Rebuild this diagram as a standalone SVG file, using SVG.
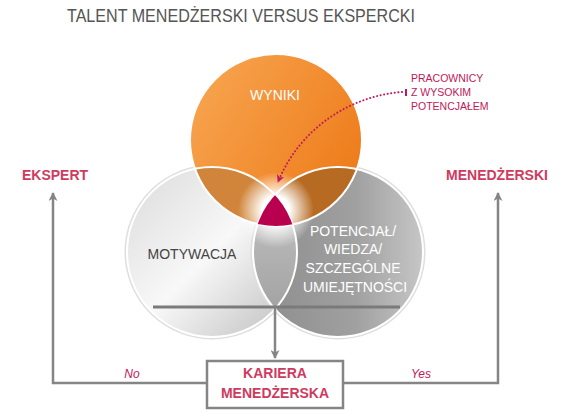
<svg xmlns="http://www.w3.org/2000/svg" width="580" height="413" viewBox="0 0 580 413">
<style>
.t{font-family:"Liberation Sans",Arial,sans-serif}
.lbl{font-family:"Liberation Sans",Arial,sans-serif;font-weight:bold;font-size:14px;fill:#cf3a60;text-anchor:middle}
.conn{fill:none;stroke:#858585;stroke-width:2.5}
.outline{fill:none;stroke:#ffffff;stroke-width:2}
</style>
<defs>
<linearGradient id="gL" x1="0" y1="0" x2="1" y2="1">
<stop offset="0" stop-color="#dadada"/>
<stop offset="0.5" stop-color="#f8f8f8"/>
<stop offset="1" stop-color="#bcbcbc"/>
</linearGradient>
<linearGradient id="gR" x1="0" y1="0" x2="1" y2="0">
<stop offset="0" stop-color="#8c8c8c"/>
<stop offset="0.6" stop-color="#a0a0a0"/>
<stop offset="1" stop-color="#c6c6c6"/>
</linearGradient>
<linearGradient id="gO" x1="0" y1="0" x2="1" y2="0.6">
<stop offset="0" stop-color="#f8a854"/>
<stop offset="1" stop-color="#ee7d1c"/>
</linearGradient>
<linearGradient id="gLens" x1="0" y1="0" x2="0" y2="1">
<stop offset="0" stop-color="#c8c8c8"/>
<stop offset="1" stop-color="#9c9c9c"/>
</linearGradient>
<radialGradient id="glow" cx="276" cy="210" r="38" gradientUnits="userSpaceOnUse">
<stop offset="0.35" stop-color="#ffffff" stop-opacity="1"/>
<stop offset="1" stop-color="#ffffff" stop-opacity="0"/>
</radialGradient>
<clipPath id="cL"><circle cx="212" cy="252" r="85"/></clipPath>
<clipPath id="cR"><circle cx="338" cy="252" r="85"/></clipPath>
<clipPath id="cO"><circle cx="276" cy="140" r="86"/></clipPath>
<marker id="arr" viewBox="0 0 10 10" refX="9" refY="5" markerWidth="10" markerHeight="9" orient="auto" markerUnits="userSpaceOnUse">
<path d="M0,0 L10,5 L0,10 L3,5 z" fill="#858585"/>
</marker>
<marker id="arrP" viewBox="0 0 10 10" refX="9" refY="5" markerWidth="8" markerHeight="8" orient="auto" markerUnits="userSpaceOnUse">
<path d="M0,0 L10,5 L0,10 L3,5 z" fill="#c0185a"/>
</marker>
</defs>
<rect width="580" height="413" fill="#ffffff"/>
<text class="t" x="241" y="22" font-size="17.5" fill="#555555" text-anchor="middle" textLength="348" lengthAdjust="spacingAndGlyphs">TALENT MENEDŻERSKI VERSUS EKSPERCKI</text>

<g id="motywacja">
<circle cx="212" cy="252" r="86.5" fill="none" stroke="#dedede" stroke-width="2"/>
<circle cx="212" cy="252" r="85" fill="url(#gL)"/>
</g>
<g id="potencjal">
<circle cx="338" cy="252" r="86.5" fill="none" stroke="#dedede" stroke-width="2"/>
<circle cx="338" cy="252" r="85" fill="url(#gR)"/>
<g clip-path="url(#cL)"><circle cx="338" cy="252" r="85" fill="url(#gLens)"/></g>
</g>
<g id="wyniki">
<circle cx="276" cy="140" r="86" fill="url(#gO)"/>
<g clip-path="url(#cL)"><circle cx="276" cy="140" r="86" fill="#d0853a"/></g>
<g clip-path="url(#cR)"><circle cx="276" cy="140" r="86" fill="#b66a22"/></g>
</g>
<circle cx="276" cy="210" r="38" fill="url(#glow)"/>
<g id="outlines">
<circle class="outline" cx="212" cy="252" r="85"/>
<circle class="outline" cx="338" cy="252" r="85"/>
<circle class="outline" cx="276" cy="140" r="86"/>
</g>
<g id="rdzen">
<g clip-path="url(#cO)"><g clip-path="url(#cL)"><circle cx="338" cy="252" r="85" fill="#b8004f"/></g></g>
</g>

<text class="t" x="275" y="100" font-size="14" fill="#ffffff" text-anchor="middle">WYNIKI</text>
<text class="t" x="192" y="259" font-size="14" fill="#444444" text-anchor="middle">MOTYWACJA</text>
<text class="t" font-size="14" fill="#ffffff" text-anchor="middle">
<tspan x="355" y="236">POTENCJAŁ/</tspan>
<tspan x="355" y="254">WIEDZA/</tspan>
<tspan x="355" y="273">SZCZEGÓLNE</tspan>
<tspan x="355" y="292">UMIEJĘTNOŚCI</tspan>
</text>

<g id="connectors">
<line x1="153" y1="307" x2="400" y2="307" stroke="#7a7a7a" stroke-width="3"/>
<line class="conn" x1="275" y1="307" x2="275" y2="358" marker-end="url(#arr)"/>
<polyline class="conn" points="207,383 53,383 53,193" marker-end="url(#arr)"/>
<polyline class="conn" points="343,383 498,383 498,193" marker-end="url(#arr)"/>
<path d="M402,92 C350,96 300,128 278,182" fill="none" stroke="#c0185a" stroke-width="2" stroke-dasharray="0.1 3.5" stroke-linecap="round" marker-end="url(#arrP)"/>
<rect x="405" y="89" width="2" height="7" fill="#c0185a"/>
</g>

<g id="kariera">
<rect x="207" y="361" width="136" height="47" fill="#ffffff" stroke="#858585" stroke-width="2.5"/>
<text class="lbl" x="275" y="378">KARIERA</text>
<text class="lbl" x="275" y="398">MENEDŻERSKA</text>
</g>
<g id="ekspert"><text class="lbl" x="55" y="180">EKSPERT</text></g>
<g id="menedzerski"><text class="lbl" x="497" y="180">MENEDŻERSKI</text></g>
<g id="pracownicy">
<text class="t" font-size="10.5" fill="#c0185a">
<tspan x="411" y="82">PRACOWNICY</tspan>
<tspan x="411" y="96">Z WYSOKIM</tspan>
<tspan x="411" y="110">POTENCJAŁEM</tspan>
</text>
</g>
<text class="t" x="132" y="378" font-size="12" font-style="italic" fill="#c0185a" text-anchor="middle">No</text>
<text class="t" x="421" y="378" font-size="12" font-style="italic" fill="#c0185a" text-anchor="middle">Yes</text>
</svg>
